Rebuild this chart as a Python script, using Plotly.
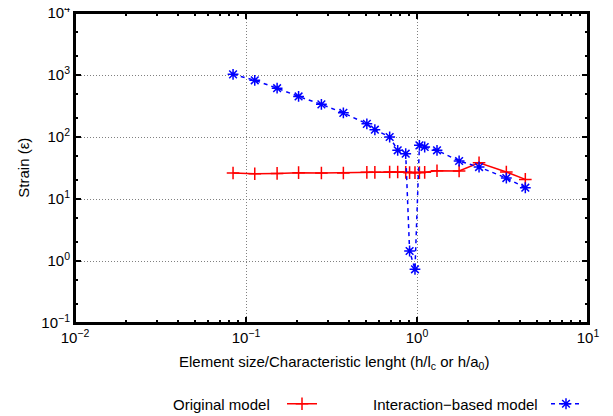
import plotly.graph_objects as go

# element size / characteristic length
x_vals = [0.084, 0.1125, 0.152, 0.203, 0.276, 0.371, 0.509, 0.567, 0.692, 0.771,
          0.859, 0.905, 0.973, 1.033, 1.109, 1.309, 1.763, 2.306, 3.33, 4.30]
original_model = [26.2, 25.6, 25.9, 26.6, 26.2, 26.2, 26.9, 26.9, 27.3, 27.3,
                  26.9, 26.6, 26.6, 26.6, 26.9, 28.6, 28.3, 38.5, 27.3, 20.7]
interaction_model = [1025, 822, 613, 451, 336, 245, 163, 131, 100, 61.0,
                     53.8, 1.45, 0.735, 73.4, 69.0, 61.0, 41.0, 32.8, 21.8, 15.2]

x_major = [0.01, 0.1, 1, 10]
x_major_text = ["10<sup>−2</sup>", "10<sup>−1</sup>", "10<sup>0</sup>", "10<sup>1</sup>"]
y_major = [0.1, 1, 10, 100, 1000, 10000]
y_major_text = ["10<sup>−1</sup>", "10<sup>0</sup>", "10<sup>1</sup>",
                "10<sup>2</sup>", "10<sup>3</sup>", "10<sup>4</sup>"]
x_minor = [m * d for d in (0.01, 0.1, 1) for m in range(2, 10)]
y_minor = [m * d for d in (0.1, 1, 10, 100, 1000) for m in (2, 5)]

FONT = "Liberation Sans, Arial, sans-serif"
OFF = 8                    # default page body margin
W, H = 613 - OFF, 416 - OFF
# plot area in page pixels: x 75..588, y 13..323
PX0, PX1, PY0, PY1 = 75, 588, 13, 323
L = PX0 - OFF
T = PY0 - OFF
R = W - (PX1 - OFF)
B = H - (PY1 - OFF)
PW, PH = W - L - R, H - T - B


def px_x(px):
    return (px - OFF - L) / PW


def px_y(py):
    return (H - B - (py - OFF)) / PH


fig = go.Figure()
fig.add_trace(go.Scatter(
    x=x_vals, y=original_model, mode="lines+markers", name="", legend="legend",
    line=dict(color="#ff0000", width=1.5),
    marker=dict(symbol="cross-thin-open", size=9, color="#ff0000",
                line=dict(color="#ff0000", width=1.5)),
))
fig.add_trace(go.Scatter(
    x=x_vals, y=interaction_model, mode="lines+markers", name="", legend="legend2",
    line=dict(color="#0000ff", width=1.5, dash="4px,4px"),
    marker=dict(symbol="asterisk-open", size=9, color="#0000ff",
                line=dict(color="#0000ff", width=1.5)),
))

axis_common = dict(
    type="log", showline=True, linecolor="black", linewidth=2, mirror="allticks",
    ticks="inside", ticklen=6, tickwidth=1.5, tickcolor="black",
    showgrid=True, gridcolor="#808080", griddash="1px,2px", gridwidth=1,
    zeroline=False, tickfont=dict(family=FONT, size=15, color="black"),
    ticklabeloverflow="allow",
)
fig.update_xaxes(range=[-2, 1], tickmode="array", tickvals=x_major, ticktext=x_major_text,
                 minor=dict(tickmode="array", tickvals=x_minor, ticks="inside", ticklen=3,
                            tickcolor="black", tickwidth=1.5, showgrid=False),
                 **axis_common)
fig.update_yaxes(range=[-1, 4], tickmode="array", tickvals=y_major, ticktext=y_major_text,
                 minor=dict(tickmode="array", tickvals=y_minor, ticks="inside", ticklen=3,
                            tickcolor="black", tickwidth=1.5, showgrid=False),
                 **axis_common)

legend_common = dict(orientation="h", xanchor="left", yanchor="middle",
                     bgcolor="rgba(0,0,0,0)", font=dict(family=FONT, size=15))

fig.update_layout(
    width=W, height=H,
    margin=dict(l=L, r=R, t=T, b=B, autoexpand=False),
    plot_bgcolor="white", paper_bgcolor="white",
    font=dict(family=FONT, size=15, color="black"),
    showlegend=True,
    legend=dict(x=px_x(282), y=px_y(404), **legend_common),
    legend2=dict(x=px_x(546), y=px_y(404), **legend_common),
    shapes=[dict(type="rect", xref="paper", yref="paper", x0=0, x1=1, y0=0, y1=1,
                 line=dict(color="black", width=2), layer="above")],
    annotations=[
        dict(text="Element size/Characteristic lenght (h/l<sub>c</sub> or h/a<sub>0</sub>)",
             xref="paper", yref="paper", x=px_x(334), y=px_y(362),
             xanchor="center", yanchor="middle", showarrow=False,
             font=dict(family=FONT, size=15)),
        dict(text="Strain (ε)", xref="paper", yref="paper",
             x=px_x(22.7), y=px_y(168), textangle=-90,
             xanchor="center", yanchor="middle", showarrow=False,
             font=dict(family=FONT, size=15)),
        dict(text="Original model", xref="paper", yref="paper",
             x=px_x(272), y=px_y(404), xanchor="right", yanchor="middle",
             showarrow=False, font=dict(family=FONT, size=15)),
        dict(text="Interaction−based model", xref="paper", yref="paper",
             x=px_x(540), y=px_y(404), xanchor="right", yanchor="middle",
             showarrow=False, font=dict(family=FONT, size=15)),
    ],
)

fig.write_html("out.html")
